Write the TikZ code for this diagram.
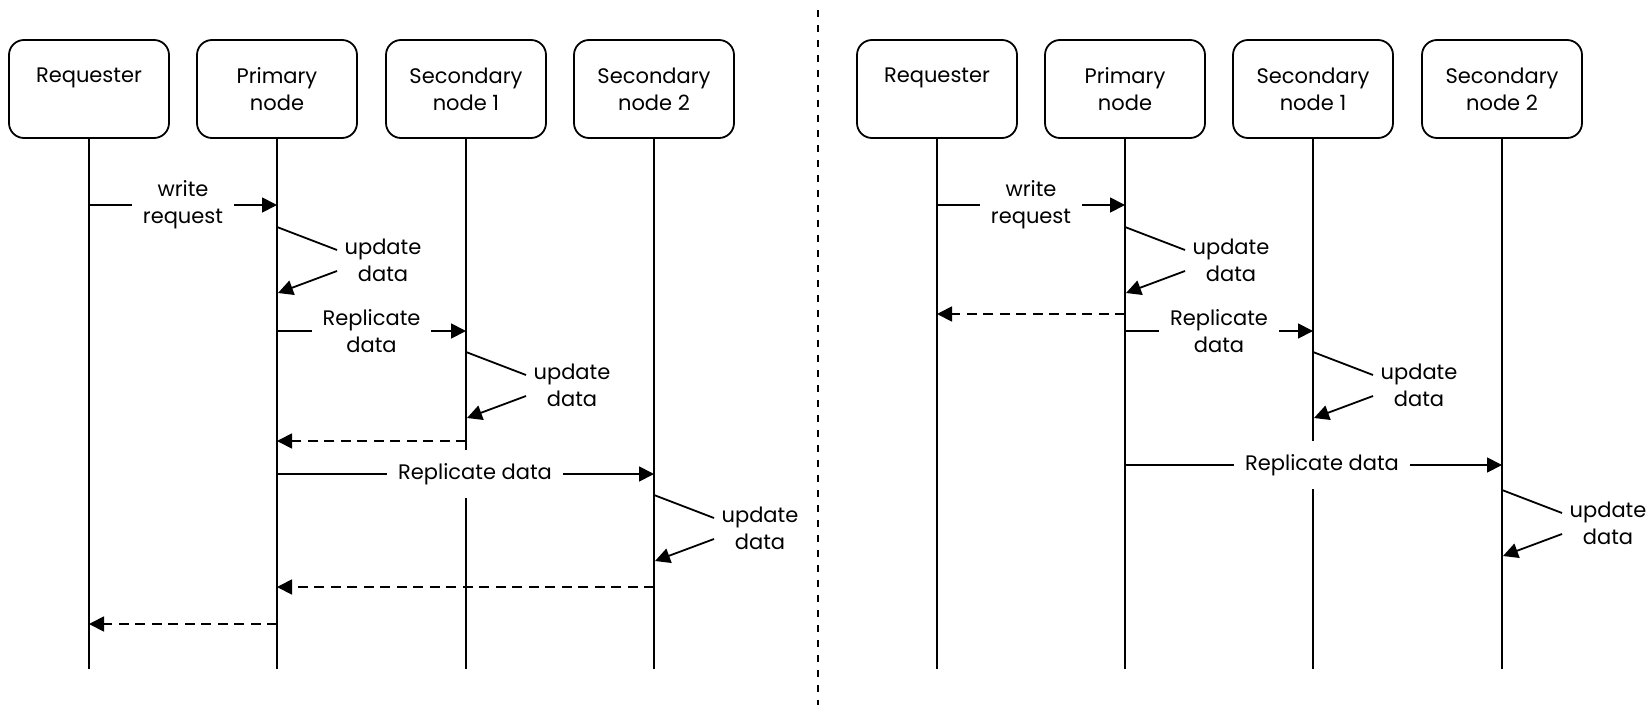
\documentclass[tikz,border=0pt]{standalone}
\usepackage{fontspec}
\setmainfont{Poppins}
\usetikzlibrary{arrows.meta}
\tikzset{
  actor/.style={draw, line width=1.8pt, rounded corners=15pt, minimum width=160pt,
    minimum height=98pt, align=center, inner sep=0pt},
  life/.style={line width=1.8pt},
  msg/.style={line width=1.8pt},
  tip/.style={-{Triangle[length=15pt,width=15pt]}},
  ret/.style={line width=1.8pt, dash pattern=on 10pt off 6.5pt, -{Triangle[length=15pt,width=15pt]}},
  lbl/.style={fill=white, align=center, inner xsep=11pt, inner ysep=1pt},
  longlbl/.style={fill=white, align=center, inner xsep=11pt, minimum height=48pt},
  upd/.style={align=center, inner sep=0pt},
  divider/.style={line width=1.4pt, dash pattern=on 7pt off 8pt},
  every node/.style={font=\fontsize{21pt}{27pt}\selectfont}
}
\newcommand\selfmsg[3]{%
  \coordinate (#1a) at (#2,#3);
  \coordinate (#1b) at (#2+60,#3+23);
  \coordinate (#1c) at (#2+60,#3+44);
  \coordinate (#1d) at (#2+1,#3+66);
  \node[upd] (#1t) at (#2+106,#3+33) {update\\data};
  \draw[msg] (#1a) -- (#1b);
  \draw[msg,tip] (#1c) -- (#1d);
}
\begin{document}
\begin{tikzpicture}[x=1pt,y=-1pt]
\useasboundingbox (0,0) rectangle (1650,715);

% divider
\coordinate (dvtop) at (818,10);
\coordinate (dvbot) at (818,705);
\draw[divider] (dvtop) -- (dvbot);

% ===== left panel =====
\node[actor] (L1) at (89,89) {Requester\\ \mbox{}};
\node[actor] (L2) at (277,89) {Primary\\node};
\node[actor] (L3) at (466,89) {Secondary\\node 1};
\node[actor] (L4) at (654,89) {Secondary\\node 2};
\foreach \n in {L1,L2,L3,L4} {
  \coordinate (\n end) at (\n |- 0,669);
  \draw[life] (\n.south) -- (\n end);
}

\draw[msg,tip] (L1 |- 0,205) -- (L2 |- 0,205) node[lbl,midway] (lw) {write\\request};
\selfmsg{lu1}{277}{227}
\draw[msg,tip] (L2 |- 0,331) -- (L3 |- 0,331) node[lbl,midway] (lr1) {Replicate\\data};
\selfmsg{lu2}{466}{352}
\draw[ret] (L3 |- 0,441) -- (L2 |- 0,441);
\draw[msg,tip] (L2 |- 0,474) -- (L4 |- 0,474);
\node[longlbl] (lr2) at (475,474) {Replicate data};
\selfmsg{lu3}{654}{495}
\draw[ret] (L4 |- 0,587) -- (L2 |- 0,587);
\draw[ret] (L2 |- 0,624) -- (L1 |- 0,624);

% ===== right panel =====
\node[actor] (R1) at (937,89) {Requester\\ \mbox{}};
\node[actor] (R2) at (1125,89) {Primary\\node};
\node[actor] (R3) at (1313,89) {Secondary\\node 1};
\node[actor] (R4) at (1502,89) {Secondary\\node 2};
\foreach \n in {R1,R2,R3,R4} {
  \coordinate (\n end) at (\n |- 0,669);
  \draw[life] (\n.south) -- (\n end);
}

\draw[msg,tip] (R1 |- 0,205) -- (R2 |- 0,205) node[lbl,midway] (rw) {write\\request};
\selfmsg{ru1}{1125}{227}
\draw[ret] (R2 |- 0,314) -- (R1 |- 0,314);
\draw[msg,tip] (R2 |- 0,331) -- (R3 |- 0,331) node[lbl,midway] (rr1) {Replicate\\data};
\selfmsg{ru2}{1313}{352}
\draw[msg,tip] (R2 |- 0,465) -- (R4 |- 0,465);
\node[longlbl] (rr2) at (1322,465) {Replicate data};
\selfmsg{ru3}{1502}{490}
\end{tikzpicture}
\end{document}
